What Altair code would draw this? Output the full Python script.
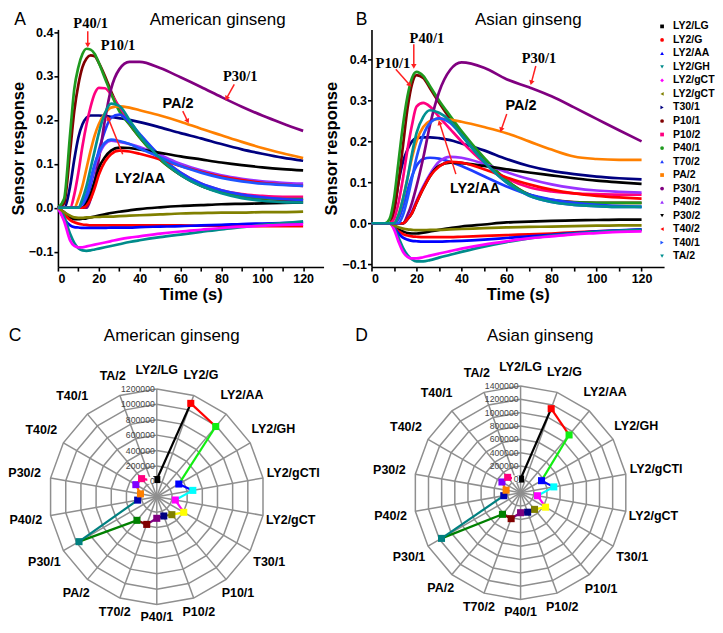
import math
import altair as alt
import numpy as np
import pandas as pd

SANS = "Liberation Sans"
SERIF = "Liberation Serif"

# ---------------- line-chart data ----------------
time_s = [0, 3, 6, 8, 10, 12, 14, 16, 18, 20, 23, 26, 30, 35, 40, 50, 60, 70, 80, 90, 100, 110, 120]

series_keys = ["LY2/LG", "LY2/G", "LY2/AA", "LY2/GH", "LY2/gCT", "LY2/gCTl", "T30/1", "P10/1", "P10/2",
               "P40/1", "T70/2", "PA/2", "P30/1", "P40/2", "P30/2", "T40/2", "T40/1", "TA/2"]
legend_labels = ["LY2/LG", "LY2/G", "LY2/AA", "LY2/GH", "LY2/gCT", "LY2/gCT", "T30/1", "P10/1", "P10/2",
                 "P40/1", "T70/2", "PA/2", "P30/1", "P40/2", "P30/2", "T40/2", "T40/1", "TA/2"]
series_colors = ["#000000", "#ff0000", "#0000ff", "#008b8b", "#ff00ff", "#808000", "#000080", "#800000", "#ff0080",
                 "#1f9a1f", "#1f3cff", "#ff8000", "#800080", "#9a32ff", "#000000", "#ff0000", "#1f55ff", "#009090"]
legend_shapes = ["square", "circle", "triangle-up", "triangle-down", "diamond", "triangle-left", "triangle-right",
                 "circle", "square", "circle", "triangle-up", "square", "circle", "triangle-up", "triangle-down",
                 "triangle-left", "triangle-right", "triangle-down"]

# American ginseng (A)
a_ly2_lg = [0, -0.01, -0.022, -0.026, -0.026, -0.025, -0.024, -0.022, -0.02, -0.018, -0.015, -0.012, -0.009, -0.006, -0.003, 0.001, 0.004, 0.006, 0.008, 0.009, 0.01, 0.011, 0.012]
a_ly2_g = [0, -0.015, -0.028, -0.033, -0.036, -0.038, -0.039, -0.04, -0.04, -0.04, -0.04, -0.04, -0.04, -0.04, -0.04, -0.04, -0.04, -0.041, -0.041, -0.041, -0.042, -0.042, -0.042]
a_ly2_aa = [0, -0.025, -0.04, -0.044, -0.045, -0.046, -0.046, -0.046, -0.046, -0.046, -0.046, -0.045, -0.045, -0.045, -0.044, -0.043, -0.042, -0.04, -0.039, -0.037, -0.036, -0.035, -0.034]
a_ly2_gh = [0, -0.02, -0.06, -0.08, -0.092, -0.097, -0.098, -0.097, -0.095, -0.093, -0.09, -0.087, -0.083, -0.078, -0.074, -0.067, -0.061, -0.055, -0.049, -0.044, -0.039, -0.035, -0.031]
a_ly2_gct = [0, -0.03, -0.075, -0.087, -0.09, -0.09, -0.088, -0.086, -0.084, -0.082, -0.079, -0.076, -0.072, -0.068, -0.065, -0.059, -0.054, -0.05, -0.046, -0.043, -0.041, -0.039, -0.038]
a_ly2_gctl = [0, -0.01, -0.018, -0.022, -0.023, -0.023, -0.022, -0.022, -0.021, -0.021, -0.02, -0.02, -0.019, -0.018, -0.017, -0.015, -0.013, -0.012, -0.011, -0.011, -0.01, -0.01, -0.009]
a_t30_1 = [0, 0.0, 0.05, 0.11, 0.16, 0.19, 0.205, 0.21, 0.21, 0.21, 0.209, 0.207, 0.204, 0.2, 0.195, 0.183, 0.17, 0.158, 0.145, 0.133, 0.123, 0.114, 0.107]
a_p10_1 = [0, 0.01, 0.13, 0.22, 0.28, 0.32, 0.34, 0.347, 0.345, 0.33, 0.3, 0.265, 0.225, 0.19, 0.16, 0.11, 0.075, 0.05, 0.035, 0.026, 0.021, 0.018, 0.017]
a_p10_2 = [0, 0, 0, 0.03, 0.08, 0.14, 0.19, 0.23, 0.26, 0.273, 0.272, 0.258, 0.23, 0.195, 0.165, 0.115, 0.08, 0.055, 0.04, 0.031, 0.027, 0.025, 0.025]
a_p40_1 = [0, 0.02, 0.17, 0.27, 0.32, 0.35, 0.362, 0.36, 0.35, 0.33, 0.295, 0.26, 0.22, 0.19, 0.16, 0.11, 0.075, 0.05, 0.035, 0.027, 0.022, 0.02, 0.02]
a_t70_2 = [0, 0, 0, 0, 0, 0, 0.02, 0.05, 0.09, 0.13, 0.175, 0.205, 0.212, 0.195, 0.168, 0.118, 0.08, 0.055, 0.04, 0.03, 0.024, 0.02, 0.018]
a_pa_2 = [0, 0, 0, 0, 0.02, 0.05, 0.09, 0.13, 0.165, 0.19, 0.215, 0.228, 0.231, 0.228, 0.222, 0.21, 0.196, 0.18, 0.165, 0.15, 0.136, 0.124, 0.113]
a_p30_1 = [0, 0, 0, 0, 0, 0, 0, 0.02, 0.06, 0.11, 0.2, 0.27, 0.315, 0.332, 0.332, 0.318, 0.297, 0.275, 0.252, 0.23, 0.21, 0.192, 0.175]
a_p40_2 = [0, 0, 0, 0, 0, 0.01, 0.03, 0.06, 0.095, 0.12, 0.145, 0.153, 0.15, 0.145, 0.138, 0.12, 0.1, 0.085, 0.074, 0.066, 0.06, 0.057, 0.055]
a_p30_2 = [0, 0, 0, 0, 0, 0, 0.01, 0.03, 0.06, 0.09, 0.115, 0.13, 0.137, 0.136, 0.133, 0.125, 0.117, 0.11, 0.103, 0.097, 0.092, 0.088, 0.085]
a_t40_2 = [0, 0, 0, 0, 0, 0, 0.005, 0.02, 0.045, 0.075, 0.105, 0.122, 0.13, 0.128, 0.123, 0.11, 0.095, 0.082, 0.071, 0.063, 0.057, 0.053, 0.05]
a_t40_1 = [0, 0, 0, 0, 0, 0.01, 0.03, 0.065, 0.1, 0.125, 0.148, 0.155, 0.152, 0.145, 0.135, 0.115, 0.095, 0.08, 0.068, 0.06, 0.055, 0.052, 0.05]
a_ta_2 = [0, 0, 0, 0, 0, 0.02, 0.05, 0.09, 0.13, 0.17, 0.215, 0.237, 0.232, 0.2, 0.165, 0.113, 0.075, 0.05, 0.033, 0.022, 0.016, 0.013, 0.012]

# Asian ginseng (B)
b_ly2_lg = [0, 0, 0, 0, -0.005, -0.015, -0.02, -0.024, -0.025, -0.025, -0.023, -0.02, -0.016, -0.012, -0.008, -0.003, 0.002, 0.004, 0.006, 0.007, 0.008, 0.009, 0.009]
b_ly2_g = [0, 0, 0, 0, -0.01, -0.02, -0.026, -0.03, -0.032, -0.033, -0.034, -0.034, -0.034, -0.034, -0.033, -0.031, -0.029, -0.027, -0.025, -0.022, -0.02, -0.018, -0.016]
b_ly2_aa = [0, 0, 0, 0, -0.01, -0.025, -0.035, -0.04, -0.043, -0.044, -0.045, -0.045, -0.045, -0.044, -0.043, -0.04, -0.036, -0.032, -0.028, -0.024, -0.02, -0.017, -0.015]
b_ly2_gh = [0, 0, 0, 0, -0.01, -0.035, -0.06, -0.078, -0.088, -0.093, -0.093, -0.09, -0.084, -0.077, -0.07, -0.057, -0.046, -0.037, -0.03, -0.025, -0.021, -0.018, -0.016]
b_ly2_gct = [0, 0, 0, 0, -0.015, -0.045, -0.07, -0.082, -0.086, -0.086, -0.083, -0.079, -0.074, -0.068, -0.062, -0.052, -0.044, -0.037, -0.032, -0.027, -0.024, -0.021, -0.02]
b_ly2_gctl = [0, 0, 0, 0, -0.005, -0.01, -0.013, -0.015, -0.016, -0.017, -0.017, -0.016, -0.016, -0.015, -0.014, -0.012, -0.01, -0.009, -0.008, -0.007, -0.006, -0.005, -0.005]
b_t30_1 = [0, 0, 0, 0, 0.03, 0.1, 0.15, 0.18, 0.2, 0.208, 0.21, 0.21, 0.208, 0.203, 0.195, 0.178, 0.157, 0.14, 0.128, 0.12, 0.114, 0.11, 0.107]
b_p10_1 = [0, 0, 0, 0, 0.03, 0.1, 0.19, 0.28, 0.34, 0.362, 0.355, 0.33, 0.295, 0.255, 0.22, 0.158, 0.105, 0.07, 0.057, 0.052, 0.05, 0.05, 0.05]
b_p10_2 = [0, 0, 0, 0, 0.01, 0.05, 0.11, 0.18, 0.24, 0.285, 0.294, 0.285, 0.26, 0.23, 0.2, 0.148, 0.11, 0.088, 0.078, 0.073, 0.071, 0.07, 0.07]
b_p40_1 = [0, 0, 0, 0.01, 0.06, 0.15, 0.24, 0.31, 0.355, 0.37, 0.36, 0.335, 0.3, 0.262, 0.225, 0.16, 0.105, 0.07, 0.056, 0.051, 0.05, 0.05, 0.05]
b_t70_2 = [0, 0, 0, 0, 0, 0.01, 0.04, 0.08, 0.115, 0.14, 0.157, 0.16, 0.158, 0.15, 0.14, 0.115, 0.09, 0.07, 0.058, 0.05, 0.045, 0.042, 0.04]
b_pa_2 = [0, 0, 0, 0, 0, 0.02, 0.06, 0.11, 0.16, 0.2, 0.235, 0.25, 0.255, 0.253, 0.248, 0.235, 0.22, 0.2, 0.18, 0.163, 0.157, 0.155, 0.155]
b_p30_1 = [0, 0, 0, 0, 0, 0, 0, 0.02, 0.05, 0.09, 0.16, 0.24, 0.32, 0.375, 0.393, 0.38, 0.352, 0.332, 0.31, 0.283, 0.255, 0.227, 0.2]
b_p40_2 = [0, 0, 0, 0, 0, 0, 0, 0.01, 0.03, 0.055, 0.09, 0.12, 0.15, 0.162, 0.16, 0.145, 0.125, 0.108, 0.095, 0.086, 0.08, 0.077, 0.075]
b_p30_2 = [0, 0, 0, 0, 0, 0, 0, 0.01, 0.025, 0.05, 0.085, 0.115, 0.14, 0.148, 0.147, 0.14, 0.132, 0.124, 0.117, 0.11, 0.104, 0.1, 0.096]
b_t40_2 = [0, 0, 0, 0, 0, 0, 0, 0.01, 0.025, 0.05, 0.085, 0.115, 0.138, 0.15, 0.148, 0.132, 0.112, 0.095, 0.082, 0.073, 0.067, 0.063, 0.06]
b_t40_1 = [0, 0, 0, 0, 0, 0, 0.02, 0.06, 0.11, 0.16, 0.215, 0.245, 0.256, 0.245, 0.215, 0.15, 0.1, 0.067, 0.052, 0.045, 0.042, 0.04, 0.04]
b_ta_2 = [0, 0, 0, 0, 0, 0.02, 0.06, 0.11, 0.17, 0.22, 0.26, 0.276, 0.27, 0.25, 0.215, 0.15, 0.1, 0.068, 0.052, 0.045, 0.042, 0.04, 0.04]

a_curves = [a_ly2_lg, a_ly2_g, a_ly2_aa, a_ly2_gh, a_ly2_gct, a_ly2_gctl, a_t30_1, a_p10_1, a_p10_2,
            a_p40_1, a_t70_2, a_pa_2, a_p30_1, a_p40_2, a_p30_2, a_t40_2, a_t40_1, a_ta_2]
b_curves = [b_ly2_lg, b_ly2_g, b_ly2_aa, b_ly2_gh, b_ly2_gct, b_ly2_gctl, b_t30_1, b_p10_1, b_p10_2,
            b_p40_1, b_t70_2, b_pa_2, b_p30_1, b_p40_2, b_p30_2, b_t40_2, b_t40_1, b_ta_2]

# annotations (data coordinates)
a_serif_labels = ["P40/1", "P10/1", "P30/1"]
a_serif_t = [16.0, 29.4, 89.2]
a_serif_v = [0.4175, 0.3675, 0.297]
a_sans_labels = ["PA/2", "LY2/AA"]
a_sans_t = [58.8, 40.2]
a_sans_v = [0.2357, 0.065]
a_arrow_t1 = [14.6, 86.3, 61.1, 31.7]
a_arrow_v1 = [0.402, 0.281, 0.22, 0.122]
a_arrow_t2 = [14.6, 82.5, 63.5, 24.6]
a_arrow_v2 = [0.37, 0.249, 0.197, 0.204]

b_serif_labels = ["P10/1", "P40/1", "P30/1"]
b_serif_t = [9.5, 24.6, 74.4]
b_serif_v = [0.388, 0.449, 0.401]
b_sans_labels = ["PA/2", "LY2/AA"]
b_sans_t = [66.4, 46.0]
b_sans_v = [0.286, 0.0834]
b_arrow_t1 = [10.8, 18.8, 73.0, 60.1, 37.5]
b_arrow_v1 = [0.376, 0.437, 0.384, 0.267, 0.12]
b_arrow_t2 = [17.0, 18.8, 71.0, 57.6, 30.2]
b_arrow_v2 = [0.338, 0.383, 0.343, 0.228, 0.246]

# ---------------- radar data ----------------
radar_labels = ["LY2/LG", "LY2/G", "LY2/AA", "LY2/GH", "LY2/gCTl", "LY2/gCT", "T30/1", "P10/1", "P10/2",
                "P40/1", "T70/2", "PA/2", "P30/1", "P40/2", "P30/2", "T40/2", "T40/1", "TA/2"]
radar_colors = ["#000000", "#ff0000", "#11ee11", "#0000ff", "#00ffff", "#ff00ff", "#ffff00", "#808000", "#000080",
                "#800080", "#800000", "#008000", "#008080", "#0000b0", "#ff8000", "#8000ff", "#ff0080", "#ffffff"]
american_area = [23000, 1090000, 990000, 130000, 275000, 44000, 204000, 104000, 66000, 80000, 182000, 200000,
                 966000, 52000, 15000, 114000, 107000, 26000]
asian_area = [5000, 1140000, 930000, 162000, 305000, 57000, 232000, 125000, 110000, 99000, 213000, 222000,
              1167000, 55000, 20000, 122000, 101000, 20000]

RMIN = -200000


def curves_df(lists):
    recs = []
    for k, c, vals in zip(series_keys, series_colors, lists):
        for t, v in zip(time_s, vals):
            recs.append({"key": k, "color": c, "t": t, "v": v})
    return pd.DataFrame(recs)


def txt(label, x, y, size, weight="normal", font=SANS, align="center", baseline="middle"):
    return alt.Chart(pd.DataFrame({"s": [label]})).mark_text(
        fontSize=size, fontWeight=weight, font=font, align=align, baseline=baseline, color="black"
    ).encode(text="s:N", x=alt.value(x), y=alt.value(y))


def line_panel(lists, ydom, width, height, serif, sans, arrows, title, title_xy, letter, letter_xy, legend=False):
    xsc = alt.Scale(domain=[0, 130], nice=False, zero=False)
    ysc = alt.Scale(domain=ydom, nice=False, zero=False)
    xax = alt.Axis(title="Time (s)", values=list(range(0, 121, 10)),
                   labelExpr="datum.value % 20 == 0 ? datum.label : ''")
    yax = alt.Axis(title="Sensor response", values=[-0.1, 0, 0.1, 0.2, 0.3, 0.4], format=".1f")

    def X(f):
        return alt.X(f, scale=xsc, axis=xax)

    def Y(f):
        return alt.Y(f, scale=ysc, axis=yax)

    df = curves_df(lists)
    lines = alt.Chart(df).mark_line(interpolate="monotone", strokeWidth=2.7).encode(
        x=X("t:Q"), y=Y("v:Q"), color=alt.Color("color:N", scale=None), detail="key:N", order="t:Q")
    sx = width / 130.0
    sy = height / (ydom[1] - ydom[0])
    t1, v1, t2, v2 = arrows
    ang = [math.degrees(math.atan2((b - a) * sx, (d - c) * sy)) % 360 for a, c, b, d in zip(t1, v1, t2, v2)]
    adf = pd.DataFrame({"t1": t1, "v1": v1, "t2": t2, "v2": v2, "ang": ang})
    rules = alt.Chart(adf).mark_rule(color="#ff2020", strokeWidth=1.5).encode(
        x=X("t1:Q"), y=Y("v1:Q"), x2="t2:Q", y2="v2:Q")
    heads = alt.Chart(adf).mark_point(shape="triangle-up", filled=True, size=30, color="#ff2020", opacity=1).encode(
        x=X("t2:Q"), y=Y("v2:Q"), angle=alt.Angle("ang:Q", scale=None))
    sdf = pd.DataFrame({"s": serif[0], "t": serif[1], "v": serif[2]})
    serif_t = alt.Chart(sdf).mark_text(font=SERIF, fontWeight="bold", fontSize=14.5, color="black").encode(
        x=X("t:Q"), y=Y("v:Q"), text="s:N")
    ndf = pd.DataFrame({"s": sans[0], "t": sans[1], "v": sans[2]})
    sans_t = alt.Chart(ndf).mark_text(font=SANS, fontWeight="bold", fontSize=14.5, color="black").encode(
        x=X("t:Q"), y=Y("v:Q"), text="s:N")
    layers = [lines, rules, heads, serif_t, sans_t,
              txt(title, title_xy[0], title_xy[1], 17),
              txt(letter, letter_xy[0], letter_xy[1], 17.5)]
    if legend:
        ldf = pd.DataFrame({"li": list(range(len(legend_labels))), "lab": legend_labels,
                            "color": series_colors, "shape": legend_shapes})
        lysc = alt.Scale(domain=[0.222, 17.81], reverse=True, nice=False, zero=False)
        lp = alt.Chart(ldf).mark_point(filled=True, size=14, opacity=1).encode(
            x=alt.value(width - 2), y=alt.Y("li:Q", scale=lysc, axis=None),
            color=alt.Color("color:N", scale=None), shape=alt.Shape("shape:N", scale=None))
        lt = alt.Chart(ldf).mark_text(align="left", baseline="middle", fontSize=10.5, fontWeight="bold",
                                      font=SANS, color="black").encode(
            x=alt.value(width + 9), y=alt.Y("li:Q", scale=lysc, axis=None), text="lab:N")
        leg = alt.layer(lp, lt)
        main = alt.layer(*layers)
        return alt.layer(main, leg).resolve_scale(y="independent").properties(width=width, height=height)
    return alt.layer(*layers).properties(width=width, height=height)


def radar(values, rmax, R_px, x_dom, y_dom, width, height, title, title_xy, letter, letter_xy):
    n = len(radar_labels)
    span = rmax - RMIN
    xsc = alt.Scale(domain=x_dom, nice=False, zero=False)
    ysc = alt.Scale(domain=y_dom, nice=False, zero=False)

    def X(f):
        return alt.X(f, scale=xsc, axis=None)

    def Y(f):
        return alt.Y(f, scale=ysc, axis=None)

    ring_vals = list(range(0, rmax + 1, 200000))
    rings = pd.DataFrame([{"ring": rv, "vidx": k} for rv in ring_vals for k in range(n + 1)])
    ring_ch = alt.Chart(rings).transform_calculate(
        a=f"datum.vidx * 2 * PI / {n}", r=f"(datum.ring - ({RMIN})) / {span}"
    ).transform_calculate(px="datum.r * sin(datum.a)", py="datum.r * cos(datum.a)").mark_line(
        color="#8f8f8f", strokeWidth=1.5).encode(x=X("px:Q"), y=Y("py:Q"), detail="ring:N", order="vidx:Q")

    spokes = pd.DataFrame({"idx": list(range(n))})
    spoke_ch = alt.Chart(spokes).transform_calculate(
        a=f"datum.idx * 2 * PI / {n}", ox="0", oy="0"
    ).transform_calculate(ex="sin(datum.a)", ey="cos(datum.a)").mark_rule(
        color="#8f8f8f", strokeWidth=1.5).encode(x=X("ox:Q"), y=Y("oy:Q"), x2="ex:Q", y2="ey:Q")

    pts = pd.DataFrame({"idx": list(range(n)), "label": radar_labels, "value": values,
                        "color": radar_colors, "nxt": list(np.roll(values, -1))})
    base = alt.Chart(pts).transform_calculate(
        a=f"datum.idx * 2 * PI / {n}", a2=f"(datum.idx + 1) * 2 * PI / {n}",
        r=f"(datum.value - ({RMIN})) / {span}", r2=f"(datum.nxt - ({RMIN})) / {span}"
    ).transform_calculate(
        px="datum.r * sin(datum.a)", py="datum.r * cos(datum.a)",
        px2="datum.r2 * sin(datum.a2)", py2="datum.r2 * cos(datum.a2)",
        rl=f"({R_px} + 19 + length(datum.label) * 1.5 * abs(sin(datum.a)) - 7 * max(-cos(datum.a), 0)) / {R_px}"
    ).transform_calculate(lx="datum.rl * sin(datum.a)", ly="datum.rl * cos(datum.a)")

    seg = base.mark_rule(strokeWidth=2.2).encode(
        x=X("px:Q"), y=Y("py:Q"), x2="px2:Q", y2="py2:Q", color=alt.Color("color:N", scale=None))
    sq = base.mark_square(size=50, opacity=1).encode(
        x=X("px:Q"), y=Y("py:Q"), color=alt.Color("color:N", scale=None))
    lab = base.mark_text(font=SANS, fontWeight="bold", fontSize=12.5, color="black").encode(
        x=X("lx:Q"), y=Y("ly:Q"), text="label:N")

    ticks = pd.DataFrame({"val": ring_vals, "lbl": [str(v) for v in ring_vals]})
    tick_ch = alt.Chart(ticks).transform_calculate(
        tx="0", ty=f"(datum.val - ({RMIN})) / {span}"
    ).mark_text(align="right", baseline="middle", dx=-2, fontSize=8.7, font=SANS, color="#444444").encode(
        x=X("tx:Q"), y=Y("ty:Q"), text="lbl:N")

    return alt.layer(ring_ch, spoke_ch, seg, sq, tick_ch, lab,
                     txt(title, title_xy[0], title_xy[1], 17),
                     txt(letter, letter_xy[0], letter_xy[1], 17.5)).properties(width=width, height=height)


A_W, A_H = 266, 238
B_W = 293
panel_a = line_panel(a_curves, [-0.135, 0.406], A_W, A_H,
                     (a_serif_labels, a_serif_t, a_serif_v), (a_sans_labels, a_sans_t, a_sans_v),
                     (a_arrow_t1, a_arrow_v1, a_arrow_t2, a_arrow_v2),
                     "American  ginseng", (160, -9), "A", (-38, -9))
panel_b = line_panel(b_curves, [-0.107, 0.4735], B_W, A_H,
                     (b_serif_labels, b_serif_t, b_serif_v), (b_sans_labels, b_sans_t, b_sans_v),
                     (b_arrow_t1, b_arrow_v1, b_arrow_t2, b_arrow_v2),
                     "Asian  ginseng", (157, -9), "B", (-10, -9), legend=True)

C_R, D_R = 108, 107
C_W, D_W, R_H = 249, 300, 267
panel_c = radar(american_area, 1200000, C_R, [-99 / C_R, 150 / C_R], [-119 / C_R, 148 / C_R], C_W, R_H,
                "American  ginseng", (114, -13), "C", (-43, -13))
panel_d = radar(asian_area, 1400000, D_R, [-149.3 / D_R, 150.7 / D_R], [-123 / D_R, 144 / D_R], D_W, R_H,
                "Asian  ginseng", (169, -13), "D", (-10, -13))

chart = alt.concat(panel_a, panel_b, panel_c, panel_d, columns=2, bounds="flush",
                   spacing={"row": 82, "column": 48}).properties(
    padding={"top": 3, "left": 0, "right": 0, "bottom": 0}).configure(
    font=SANS
).configure_view(stroke=None).configure_axis(
    grid=False, domainColor="black", domainWidth=1.6, tickColor="black", tickWidth=1.6, tickSize=4,
    labelFont=SANS, labelFontWeight="bold", labelFontSize=12.5, labelColor="black", labelPadding=1,
    titleFont=SANS, titleFontWeight="bold", titleFontSize=16.5, titleColor="black", titlePadding=2
)

chart.save("out.html", embed_options={"renderer": "svg", "actions": False})
